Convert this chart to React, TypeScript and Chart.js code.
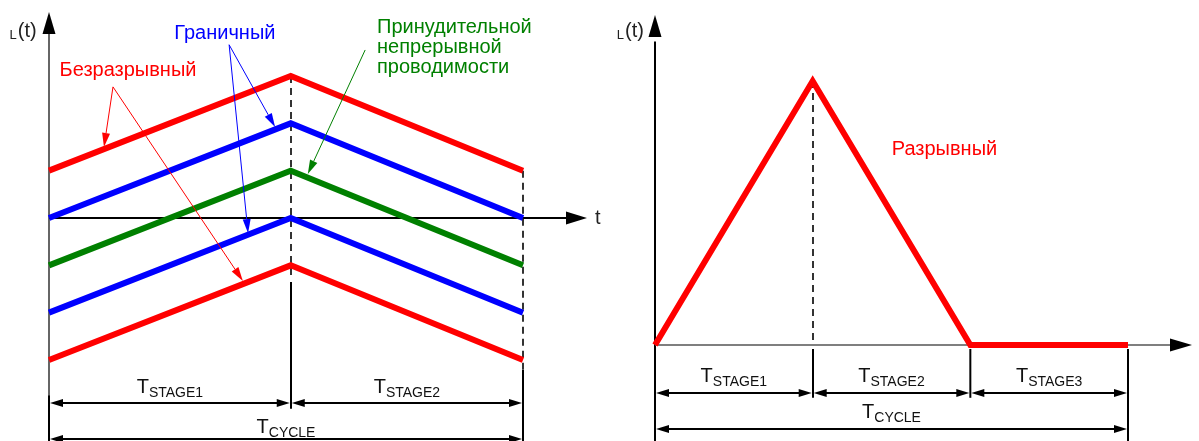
import React, { useEffect, useRef } from "react";
import { Chart, registerables } from "chart.js";

Chart.register(...registerables);

const FONT = '"Liberation Sans", Arial, Helvetica, sans-serif';

// ---------- Data: left chart (continuous modes) ----------
const leftTimes = [0, 5.1, 10];
const redUpper = [1, 3, 1];
const blueUpper = [0, 2, 0];
const greenForced = [-1, 1, -1];
const blueLower = [-2, 0, -2];
const redLower = [-3, -1, -3];
const leftStageLabels = ["STAGE1", "STAGE2"];

// ---------- Data: right chart (discontinuous mode) ----------
const rightTimes = [0, 1, 2, 3];
const discontinuous = [0, 1, 0, 0];
const rightStageLabels = ["STAGE1", "STAGE2", "STAGE3"];

const cycleLabel = "CYCLE";
const yAxisSub = "L";
const yAxisMain = "(t)";
const xAxisLabel = "t";

const labelContinuous = "Безразрывный";
const labelBoundary = "Граничный";
const labelForced = ["Принудительной", "непрерывной", "проводимости"];
const labelDiscontinuous = "Разрывный";

const RED = "#ff0000";
const BLUE = "#0000ff";
const GREEN = "#008000";
const DASH = "#333333";

type Ctx = CanvasRenderingContext2D;

function line(ctx: Ctx, x1: number, y1: number, x2: number, y2: number, color: string, w: number, dash: number[] = []) {
  ctx.save();
  ctx.strokeStyle = color;
  ctx.lineWidth = w;
  ctx.setLineDash(dash);
  ctx.beginPath();
  ctx.moveTo(x1, y1);
  ctx.lineTo(x2, y2);
  ctx.stroke();
  ctx.restore();
}

function arrow(ctx: Ctx, x1: number, y1: number, x2: number, y2: number, len: number, half: number, color: string, w: number) {
  const a = Math.atan2(y2 - y1, x2 - x1);
  const bx = x2 - len * Math.cos(a);
  const by = y2 - len * Math.sin(a);
  line(ctx, x1, y1, bx, by, color, w);
  ctx.save();
  ctx.fillStyle = color;
  ctx.beginPath();
  ctx.moveTo(x2, y2);
  ctx.lineTo(bx + half * Math.sin(a), by - half * Math.cos(a));
  ctx.lineTo(bx - half * Math.sin(a), by + half * Math.cos(a));
  ctx.closePath();
  ctx.fill();
  ctx.restore();
}

function dimArrow(ctx: Ctx, xa: number, xb: number, y: number) {
  const len = 13;
  const half = 4;
  line(ctx, xa + len, y, xb - len, y, "#000", 2);
  arrow(ctx, xa + len + 1, y, xa + 1, y, len, half, "#000", 0.01);
  arrow(ctx, xb - len - 1, y, xb - 1, y, len, half, "#000", 0.01);
}

function tLabel(ctx: Ctx, cx: number, base: number, sub: string) {
  ctx.save();
  ctx.fillStyle = "#111";
  ctx.textAlign = "left";
  ctx.textBaseline = "alphabetic";
  ctx.font = `20px ${FONT}`;
  const w1 = ctx.measureText("T").width;
  ctx.font = `14px ${FONT}`;
  const w2 = ctx.measureText(sub).width;
  const x0 = cx - (w1 + w2) / 2;
  ctx.font = `20px ${FONT}`;
  ctx.fillText("T", x0, base);
  ctx.font = `14px ${FONT}`;
  ctx.fillText(sub, x0 + w1, base + 4);
  ctx.restore();
}

function axisLabel(ctx: Ctx, left: number, base: number) {
  ctx.save();
  ctx.fillStyle = "#222";
  ctx.textAlign = "left";
  ctx.textBaseline = "alphabetic";
  ctx.font = `13px ${FONT}`;
  const w = ctx.measureText(yAxisSub).width;
  ctx.fillText(yAxisSub, left - w - 1, base + 2);
  ctx.font = `20px ${FONT}`;
  ctx.fillText(yAxisMain, left, base);
  ctx.restore();
}

function text(ctx: Ctx, s: string, x: number, base: number, color: string, align: CanvasTextAlign) {
  ctx.save();
  ctx.fillStyle = color;
  ctx.font = `20px ${FONT}`;
  ctx.textAlign = align;
  ctx.textBaseline = "alphabetic";
  ctx.fillText(s, x, base);
  ctx.restore();
}

function mapper(chart: any) {
  const xs = chart.scales.x;
  const ys = chart.scales.y;
  return {
    X: (v: number) => xs.getPixelForValue(v),
    Y: (v: number) => ys.getPixelForValue(v),
  };
}

// ---------- Left chart decorations (positions in data units) ----------
const leftDecor = {
  id: "leftDecor",
  beforeDatasetsDraw(chart: any) {
    const ctx: Ctx = chart.ctx;
    const { X, Y } = mapper(chart);
    const t0 = leftTimes[0];
    const t1 = leftTimes[1];
    const t2 = leftTimes[2];
    const x1 = Math.round(X(t1));
    const x2 = Math.round(X(t2));
    // y axis
    line(ctx, X(t0), Y(-4.8), X(t0), Y(4.0), "#333", 1.5);
    arrow(ctx, X(t0), Y(3.5), X(t0), Y(4.35), 22, 6.5, "#000", 0.01);
    line(ctx, X(t0), Y(-3.75), X(t0), Y(-4.8), "#000", 2);
    // x axis
    line(ctx, X(t0), Y(0), X(11.0), Y(0), "#000", 2);
    arrow(ctx, X(10.8), Y(0), X(11.35), Y(0), 21, 6.5, "#000", 0.01);
    // dashed verticals
    line(ctx, x1, Y(3), x1, Y(-1.31), DASH, 2, [7, 5]);
    line(ctx, x2, Y(1), x2, Y(-3.21), DASH, 2, [7, 5]);
    // solid verticals
    line(ctx, x1, Y(-1.35), x1, Y(-4.03), "#000", 2);
    line(ctx, x2, Y(-3.21), x2, Y(-4.8), "#000", 2);
  },
  afterDatasetsDraw(chart: any) {
    const ctx: Ctx = chart.ctx;
    const { X, Y } = mapper(chart);
    // labels on axes
    axisLabel(ctx, X(-0.66), Y(3.82));
    ctx.save();
    ctx.fillStyle = "#222";
    ctx.font = `20px ${FONT}`;
    ctx.textBaseline = "middle";
    ctx.fillText(xAxisLabel, X(11.52), Y(0));
    ctx.restore();
    // dimension lines
    dimArrow(ctx, X(leftTimes[0]), X(leftTimes[1]), Y(-3.91));
    dimArrow(ctx, X(leftTimes[1]), X(leftTimes[2]), Y(-3.91));
    dimArrow(ctx, X(leftTimes[0]), X(leftTimes[2]), Y(-4.67));
    tLabel(ctx, X((leftTimes[0] + leftTimes[1]) / 2), Y(-3.7), leftStageLabels[0]);
    tLabel(ctx, X((leftTimes[1] + leftTimes[2]) / 2), Y(-3.7), leftStageLabels[1]);
    tLabel(ctx, X((leftTimes[0] + leftTimes[2]) / 2), Y(-4.54), cycleLabel);
    // red annotation
    text(ctx, labelContinuous, X(1.667), Y(3.0), RED, "center");
    arrow(ctx, X(1.35), Y(2.77), X(1.16), Y(1.5), 14, 4, RED, 1);
    arrow(ctx, X(1.35), Y(2.77), X(4.09), Y(-1.33), 14, 4, RED, 1);
    // blue annotation
    text(ctx, labelBoundary, X(3.71), Y(3.78), BLUE, "center");
    arrow(ctx, X(3.8), Y(3.66), X(4.77), Y(1.92), 14, 4, BLUE, 1);
    arrow(ctx, X(3.8), Y(3.66), X(4.2), Y(-0.32), 14, 4, BLUE, 1);
    // green annotation
    const gy = [3.91, 3.49, 3.06];
    labelForced.forEach((s, i) => text(ctx, s, X(6.92), Y(gy[i]), GREEN, "left"));
    arrow(ctx, X(6.67), Y(3.55), X(5.46), Y(0.93), 14, 4, GREEN, 1);
  },
};

// ---------- Right chart decorations ----------
const rightDecor = {
  id: "rightDecor",
  beforeDatasetsDraw(chart: any) {
    const ctx: Ctx = chart.ctx;
    const { X, Y } = mapper(chart);
    const [t0, t1, t2, t3] = rightTimes;
    const x1 = Math.round(X(t1));
    line(ctx, X(t0), Y(-0.37), X(t0), Y(1.15), "#000", 2);
    arrow(ctx, X(t0), Y(1.1), X(t0), Y(1.25), 22, 6.5, "#000", 0.01);
    line(ctx, X(t0), Y(0), X(3.3), Y(0), "#555", 1.5);
    arrow(ctx, X(3.3), Y(0), X(3.406), Y(0), 22, 6.5, "#000", 0.01);
    line(ctx, x1, Y(1), x1, Y(0), DASH, 2, [7, 5]);
    line(ctx, x1, Y(-0.015), x1, Y(-0.2), "#000", 2);
    line(ctx, X(t2), Y(-0.015), X(t2), Y(-0.2), "#000", 2);
    line(ctx, X(t3), Y(-0.015), X(t3), Y(-0.37), "#000", 2);
  },
  afterDatasetsDraw(chart: any) {
    const ctx: Ctx = chart.ctx;
    const { X, Y } = mapper(chart);
    axisLabel(ctx, X(-0.19), Y(1.167));
    for (let i = 0; i < 3; i++) {
      dimArrow(ctx, X(rightTimes[i]), X(rightTimes[i + 1]), Y(-0.182));
      tLabel(ctx, X((rightTimes[i] + rightTimes[i + 1]) / 2), Y(-0.14), rightStageLabels[i]);
    }
    dimArrow(ctx, X(rightTimes[0]), X(rightTimes[3]), Y(-0.318));
    tLabel(ctx, X((rightTimes[0] + rightTimes[3]) / 2), Y(-0.277), cycleLabel);
    text(ctx, labelDiscontinuous, X(1.836), Y(0.72), RED, "center");
  },
};

function ds(xs: number[], ys: number[], color: string) {
  return {
    data: xs.map((x, i) => ({ x, y: ys[i] })),
    borderColor: color,
    backgroundColor: color,
    borderWidth: 6,
    pointRadius: 0,
    tension: 0,
    fill: false,
    clip: false as any,
    borderJoinStyle: "miter" as const,
    borderCapStyle: "butt" as const,
  };
}

function baseOptions(padding: any, xmin: number, xmax: number, ymin: number, ymax: number) {
  return {
    animation: false as const,
    responsive: false,
    devicePixelRatio: 1,
    events: [] as any,
    layout: { padding },
    plugins: { legend: { display: false }, tooltip: { enabled: false }, title: { display: false } },
    scales: {
      x: { type: "linear" as const, display: false, min: xmin, max: xmax },
      y: { type: "linear" as const, display: false, min: ymin, max: ymax },
    },
  };
}

export default function App() {
  const leftRef = useRef<HTMLCanvasElement>(null);
  const rightRef = useRef<HTMLCanvasElement>(null);

  useEffect(() => {
    const lc = new Chart(leftRef.current!, {
      type: "line",
      data: {
        datasets: [
          ds(leftTimes, redUpper, RED),
          ds(leftTimes, blueUpper, BLUE),
          ds(leftTimes, greenForced, GREEN),
          ds(leftTimes, blueLower, BLUE),
          ds(leftTimes, redLower, RED),
        ],
      },
      options: baseOptions({ left: 49, right: 82, top: 76, bottom: 81 }, 0, 10, -3, 3) as any,
      plugins: [leftDecor],
    });
    const rc = new Chart(rightRef.current!, {
      type: "line",
      data: { datasets: [ds(rightTimes, discontinuous, RED)] },
      options: baseOptions({ left: 50, right: 71, top: 81, bottom: 96 }, 0, 3, 0, 1) as any,
      plugins: [rightDecor],
    });
    return () => {
      lc.destroy();
      rc.destroy();
    };
  }, []);

  return (
    <div style={{ position: "fixed", left: 0, top: 0, width: 1199, height: 441, background: "#fff" }}>
      <canvas ref={leftRef} width={605} height={441} style={{ position: "absolute", left: 0, top: 0 }} />
      <canvas ref={rightRef} width={594} height={441} style={{ position: "absolute", left: 605, top: 0 }} />
    </div>
  );
}
